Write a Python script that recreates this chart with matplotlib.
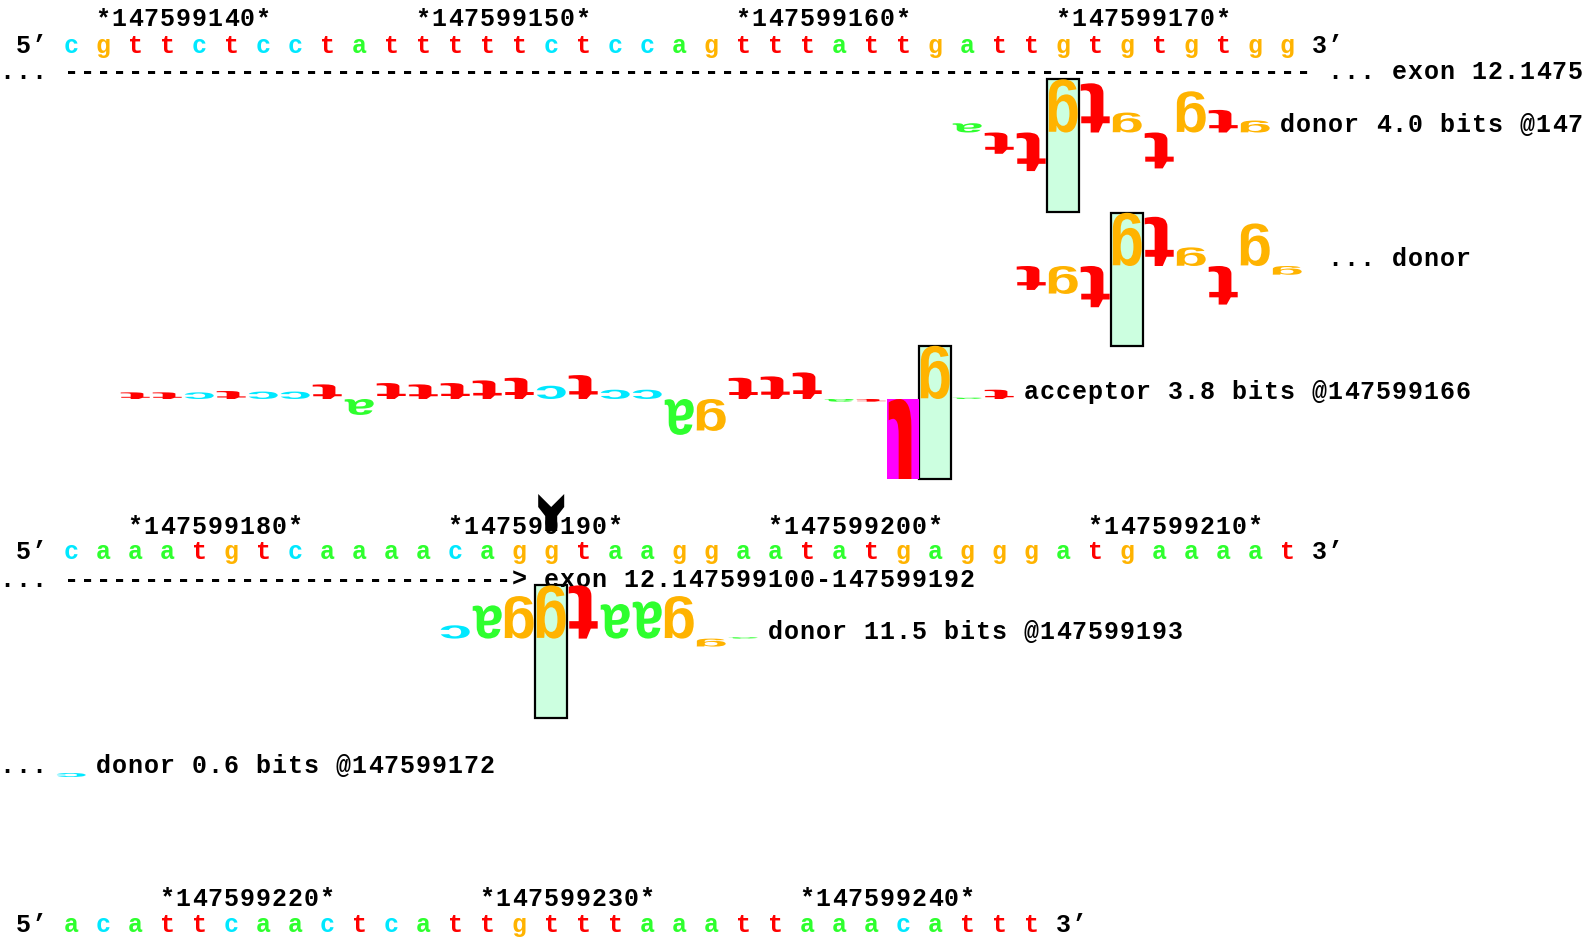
"""Sequence walker diagram: donor / acceptor walkers over three sequence rows."""
import matplotlib
matplotlib.use('Agg')
import matplotlib.pyplot as plt
from matplotlib.textpath import TextPath
from matplotlib.font_manager import FontProperties
from matplotlib.patches import PathPatch, Rectangle, Polygon
from matplotlib.transforms import Affine2D

# --- data -------------------------------------------------------------
row_seqs = [
    "cgttctcctatttttctccagtttattgattgtgtgtgg",
    "caaatgtcaaaacaggtaaggaatatgagggatgaaaat",
    "acattcaactcattgtttaaattaaacattt",
]
row_starts = [147599139, 147599178, 147599217]
exon_name = "exon 12.147599100-147599192"

# walker letters, Ri contribution in bits, listed from the first position drawn
donor1_first = 28          # row 1 index of first letter
donor1_zero = 31
donor1_bits = [0.35, -0.8, -1.45, 2.0, 1.85, 0.75, -1.35, 1.55, 0.85, 0.45]
donor1_total = 4.0

donor2_first = 30
donor2_zero = 33
donor2_bits = [-0.9, -1.05, -1.55, 2.0, 1.85, 0.7, -1.45, 1.6, -0.33]
donor2_tail_bits = [-0.15]  # continues on row 2
donor2_total = 0.6

acc_first = 2
acc_zero = 27
acc_bits = [0.25, 0.25, 0.25, 0.3, 0.28, 0.28, 0.55, -0.6, 0.6, 0.55,
            0.6, 0.7, 0.8, 0.5, 0.9, 0.35, 0.35, -1.35, -1.2, 0.8,
            0.85, 1.0, -0.1, -0.1, -5.2, 2.0, 0.05, 0.35]
acc_total = 3.8

donor3_first = 12          # row 2
donor3_zero = 15
donor3_bits = [0.5, 1.25, 1.6, 2.0, 2.0, 1.3, 1.4, 1.6, -0.3, 0.05]
donor3_total = 11.5

base_colors = {'a': '#2eff2e', 'c': '#00e8ff', 'g': '#ffb300', 't': '#ff0000'}

# --- layout -----------------------------------------------------------
W, H = 1582, 942
CW, X0 = 16.0, 23.2        # character column width, centre of column 0
PPB = 26.6                 # pixels per bit
row_y = [(26, 53, 79), (533.5, 559, 587), (905.5, 932, None)]
lanes = [[132.5, 266, 399], [638.6, 773]]

mono = dict(family='Liberation Mono', weight='bold', fontsize=18)
glyph_font = FontProperties(family='Liberation Sans', weight='bold')


def colx(c):
    return X0 + CW * c


def basex(k):
    return colx(3 + 2 * k)


fig = plt.figure(figsize=(W / 100, H / 100), dpi=100)
ax = fig.add_axes([0, 0, 1, 1])
ax.set_xlim(0, W)
ax.set_ylim(H, 0)
ax.axis('off')


def put(col, y, s, color='black'):
    for i, ch in enumerate(s):
        if ch != ' ':
            ax.text(colx(col + i), y, ch, ha='center', va='baseline',
                    color=color, **mono)


def glyph(ch, xc, base, bits, clip=None):
    if bits == 0:
        return
    tp = TextPath((0, 0), ch, size=100, prop=glyph_font)
    ext = tp.get_extents()
    w, h = 29.0, abs(bits) * PPB
    top = base - h if bits > 0 else base
    # glyphs appear turned upside down (180 deg) in the reference
    tr = (Affine2D().translate(-ext.x0, -ext.y0)
          .scale(w / ext.width, h / ext.height)
          .scale(-1, 1).translate(w, 0)
          .translate(xc - w / 2, top))
    p = PathPatch(tr.transform_path(tp), facecolor=base_colors[ch],
                  edgecolor='none', zorder=3)
    ax.add_patch(p)
    if clip is not None:
        p.set_clip_path(clip)


def walker(seq, first, bits, zero, base):
    x = basex(zero)
    ax.add_patch(Rectangle((x - 16, base - 2 * PPB), 32, 5 * PPB,
                           facecolor='#ccffe0', edgecolor='black',
                           lw=1.6, zorder=2))
    for i, b in enumerate(bits):
        k = first + i
        if k >= len(seq):
            break
        if b < -3:
            # off-scale letter: magenta background, letter clipped at -3 bits
            ax.add_patch(Rectangle((basex(k) - 16, base), 32, 3 * PPB,
                                   facecolor='#ff00ff', edgecolor='none',
                                   zorder=2))
            clip = Rectangle((basex(k) - 16, base), 32, 3 * PPB,
                             transform=ax.transData)
            glyph(seq[k], basex(k), base, b, clip=clip)
        else:
            glyph(seq[k], basex(k), base, b)


# --- sequence rows ----------------------------------------------------
for seq, start, (yl, ys, ye) in zip(row_seqs, row_starts, row_y):
    put(0, ys, "5\u2019")
    for k, b in enumerate(seq):
        put(3 + 2 * k, ys, b, base_colors[b])
    put(3 + 2 * len(seq), ys, "3\u2019")
    for k in range(len(seq)):
        if (start + k) % 10 == 0:
            put(3 + 2 * k, yl, "*%d*" % (start + k))

n1 = len(row_seqs[0])
put(-1, row_y[0][2], "... " + "-" * (2 * n1) + " ... " + exon_name)
exon_end = 147599192 - row_starts[1]
put(-1, row_y[1][2], "... " + "-" * (2 * exon_end) + "> " + exon_name)

# --- walkers ----------------------------------------------------------
s1, s2 = row_seqs[0], row_seqs[1]
walker(s1, donor1_first, donor1_bits, donor1_zero, lanes[0][0])
put(3 + 2 * (donor1_first + len(donor1_bits)), lanes[0][0],
    "donor %.1f bits @%d" % (donor1_total, row_starts[0] + donor1_zero))

walker(s1, donor2_first, donor2_bits, donor2_zero, lanes[0][1])
put(82, lanes[0][1], "... donor")

walker(s1, acc_first, acc_bits, acc_zero, lanes[0][2])
put(3 + 2 * (acc_first + len(acc_bits)), lanes[0][2],
    "acceptor %.1f bits @%d" % (acc_total, row_starts[0] + acc_zero))

walker(s2, donor3_first, donor3_bits, donor3_zero, lanes[1][0])
put(3 + 2 * (donor3_first + len(donor3_bits)), lanes[1][0],
    "donor %.1f bits @%d" % (donor3_total, row_starts[1] + donor3_zero))

put(-1, lanes[1][1], "...")
for i, b in enumerate(donor2_tail_bits):
    glyph(s2[i], basex(i), lanes[1][1], b)
put(3 + 2 * len(donor2_tail_bits), lanes[1][1],
    "donor %.1f bits @%d" % (donor2_total, row_starts[0] + donor2_zero))

# marker above the strong donor
mx = basex(donor3_zero)
ax.add_patch(Polygon([(mx - 13, 494), (mx, 507), (mx + 13, 494),
                      (mx + 13, 507), (mx + 6, 516), (mx + 6, 531),
                      (mx - 6, 531), (mx - 6, 516), (mx - 13, 507)],
                     closed=True, facecolor='black', edgecolor='none',
                     zorder=4))

fig.savefig('out.png', dpi=100, facecolor='white')
